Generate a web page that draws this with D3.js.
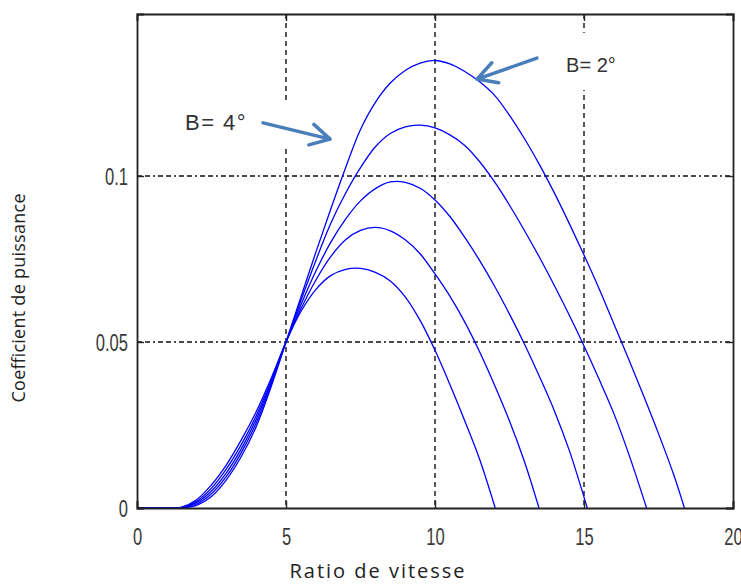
<!DOCTYPE html>
<html>
<head>
<meta charset="utf-8">
<script src="https://cdn.jsdelivr.net/npm/d3@7"></script>
<style>
  body { margin: 0; background: #fff; }
  svg { display: block; }
  .tick text { font-family: "Liberation Sans", Arial, sans-serif; font-size: 23px; fill: #3a3a3a; }
  .label { font-family: "Open Sans", sans-serif; fill: #222; }
  .note { font-family: "Liberation Sans", Arial, sans-serif; fill: #333; }
</style>
</head>
<body>
<svg id="chart" width="741" height="584"></svg>
<script>
// Values: [ratio de vitesse, Cp]
const curve1 = [[0, 0], [1, 0], [1.5, 0], [2, 0.0008], [2.5, 0.0035], [3, 0.0085], [3.5, 0.0155], [4, 0.0245], [4.5, 0.0365], [5, 0.05],
  [5.5, 0.0635], [6, 0.077], [6.5, 0.09], [7, 0.1025], [7.5, 0.114], [8, 0.1222], [8.5, 0.128], [9, 0.1318], [9.5, 0.134],
  [10, 0.1348], [10.5, 0.1338], [11, 0.1315], [11.5, 0.1284], [12, 0.1243], [12.5, 0.1183], [13, 0.1113], [13.5, 0.1035],
  [14, 0.095], [14.5, 0.0858], [15, 0.0762], [15.5, 0.0662], [16, 0.0555], [16.5, 0.0448], [17, 0.0338], [17.5, 0.0224],
  [18, 0.0103], [18.37, 0]];

const curve2 = [[0, 0], [1, 0], [1.5, 0], [2, 0.0012], [2.5, 0.0043], [3, 0.0095], [3.5, 0.0167], [4, 0.0256], [4.5, 0.0371], [5, 0.05],
  [5.5, 0.0625], [6, 0.0745], [6.5, 0.0857], [7, 0.0948], [7.5, 0.1025], [8, 0.1088], [8.5, 0.1128], [9, 0.1148], [9.5, 0.1153],
  [10, 0.1145], [10.5, 0.1124], [11, 0.1092], [11.5, 0.1043], [12, 0.0982], [12.5, 0.0912], [13, 0.0836], [13.5, 0.0756],
  [14, 0.0671], [14.5, 0.0582], [15, 0.0488], [15.5, 0.0389], [16, 0.0285], [16.5, 0.0163], [17.1, 0]];

const curve3 = [[0, 0], [1, 0], [1.5, 0.0001], [2, 0.0016], [2.5, 0.0051], [3, 0.0106], [3.5, 0.0178], [4, 0.0267], [4.5, 0.0377], [5, 0.05],
  [5.5, 0.0612], [6, 0.0713], [6.5, 0.08], [7, 0.087], [7.5, 0.0925], [8, 0.0962], [8.5, 0.0982], [9, 0.0981], [9.5, 0.0963],
  [10, 0.0928], [10.5, 0.0878], [11, 0.0815], [11.5, 0.0745], [12, 0.0668], [12.5, 0.0584], [13, 0.0494], [13.5, 0.0397],
  [14, 0.0294], [14.5, 0.0175], [15.11, 0]];

const curve4 = [[0, 0], [1, 0], [1.5, 0.0002], [2, 0.002], [2.5, 0.006], [3, 0.0118], [3.5, 0.0191], [4, 0.0278], [4.5, 0.0383], [5, 0.05],
  [5.5, 0.06], [6, 0.0686], [6.5, 0.0757], [7, 0.0808], [7.5, 0.0836], [8, 0.0845], [8.5, 0.0835], [9, 0.0808], [9.5, 0.0766],
  [10, 0.0705], [10.5, 0.0638], [11, 0.056], [11.5, 0.047], [12, 0.037], [12.5, 0.0262], [13, 0.014], [13.49, 0]];

const curve5 = [[0, 0], [1, 0], [1.5, 0.0003], [2, 0.0025], [2.5, 0.007], [3, 0.013], [3.5, 0.0205], [4, 0.029], [4.5, 0.039], [5, 0.05],
  [5.5, 0.0592], [6, 0.0658], [6.5, 0.07], [7, 0.0719], [7.5, 0.0722], [8, 0.071], [8.5, 0.0684], [9, 0.0636], [9.5, 0.0565],
  [10, 0.0475], [10.5, 0.0372], [11, 0.0262], [11.5, 0.0146], [12.02, 0]];

const curves = [curve1, curve2, curve3, curve4, curve5];

const xTicks = [0, 5, 10, 15, 20];
const yTicks = [0, 0.05, 0.1];
const xGrid = [5, 10, 15];
const yGrid = [0.05, 0.1];

// annotations in data units: white box corners, label position, arrow tail, arrow tip
const notes = [
  { text: 'B= 4°', size: 22, spacing: 1.5, box: [0.87, 0.1226, 5.13, 0.1087], at: [1.61, 0.1139], from: [4.23, 0.116], to: [6.48, 0.1111] },
  { text: 'B= 2°', size: 20, spacing: 0, box: [13.45, 0.1431, 16.95, 0.1259], at: [14.4, 0.1313], from: [13.42, 0.1355], to: [11.41, 0.1292] },
];

const svg = d3.select('#chart');
const padding = { top: 14, left: 137, right: 8, bottom: 76 };
const width = 741 - padding.left - padding.right;
const height = 584 - padding.top - padding.bottom;

const x = d3.scaleLinear().domain([0, 20]).range([padding.left, padding.left + width]);
const y = d3.scaleLinear().domain([0, 0.1488]).range([padding.top + height, padding.top]);

// grid
svg.append('g')
  .selectAll('line')
  .data(xGrid)
  .join('line')
  .attr('x1', d => x(d)).attr('x2', d => x(d))
  .attr('y1', y.range()[1]).attr('y2', y.range()[0])
  .attr('stroke', '#111')
  .attr('stroke-width', 1.4)
  .attr('stroke-dasharray', '5,4');

svg.append('g')
  .selectAll('line')
  .data(yGrid)
  .join('line')
  .attr('x1', x.range()[0]).attr('x2', x.range()[1])
  .attr('y1', d => y(d)).attr('y2', d => y(d))
  .attr('stroke', '#111')
  .attr('stroke-width', 1.4)
  .attr('stroke-dasharray', '5,3,5,3,2,3');

// curves
const line = d3.line()
  .x(d => x(d[0]))
  .y(d => Math.min(y(d[1]), y(0)))
  .curve(d3.curveCatmullRom.alpha(0.5));

svg.append('g')
  .selectAll('path')
  .data(curves)
  .join('path')
  .attr('d', line)
  .attr('fill', 'none')
  .attr('stroke', '#0000ff')
  .attr('stroke-width', 1.3);

// axes, ticks pointing inward
const axisB = svg.append('g')
  .attr('transform', `translate(0,${y(0)})`)
  .call(d3.axisBottom(x).tickValues(xTicks).tickSize(-7).tickPadding(23).tickFormat(d3.format('d')));
const axisL = svg.append('g')
  .attr('transform', `translate(${x(0)},0)`)
  .call(d3.axisLeft(y).tickValues(yTicks).tickSize(-7).tickFormat(d => d === 0 ? '0' : String(d)));
const axisT = svg.append('g')
  .attr('transform', `translate(0,${y.range()[1]})`)
  .call(d3.axisTop(x).tickValues(xTicks).tickSize(-7).tickFormat(''));
const axisR = svg.append('g')
  .attr('transform', `translate(${x(20)},0)`)
  .call(d3.axisRight(y).tickValues(yTicks).tickSize(-7).tickFormat(''));

[axisB, axisL, axisT, axisR].forEach(g => {
  g.select('.domain').attr('stroke', '#222').attr('stroke-width', 1.8);
  g.selectAll('.tick line').attr('stroke', '#222').attr('stroke-width', 1.4);
});
// narrow, tall tick digits like the original
axisB.selectAll('.tick text').attr('dy', '0.62em').attr('transform', 'scale(0.72,1)');
axisL.selectAll('.tick text').attr('dy', '0.36em').attr('x', -9 / 0.72).attr('transform', 'scale(0.72,1)');

// axis titles
svg.append('text')
  .attr('class', 'label')
  .attr('x', 377)
  .attr('y', 578)
  .attr('text-anchor', 'middle')
  .attr('font-size', 20)
  .attr('textLength', 175)
  .attr('lengthAdjust', 'spacing')
  .text('Ratio de vitesse');

svg.append('text')
  .attr('class', 'label')
  .attr('transform', 'translate(25,298) rotate(-90)')
  .attr('text-anchor', 'middle')
  .attr('font-size', 18)
  .attr('textLength', 209)
  .attr('lengthAdjust', 'spacing')
  .text('Coefficient de puissance');

// annotations
const ann = svg.append('g');
notes.forEach(n => {
  ann.append('rect')
    .attr('x', x(n.box[0]))
    .attr('y', y(n.box[1]))
    .attr('width', x(n.box[2]) - x(n.box[0]))
    .attr('height', y(n.box[3]) - y(n.box[1]))
    .attr('fill', '#fff');

  ann.append('text')
    .attr('class', 'note')
    .attr('x', x(n.at[0]))
    .attr('y', y(n.at[1]))
    .attr('font-size', n.size)
    .attr('letter-spacing', n.spacing)
    .text(n.text);

  const x0 = x(n.from[0]), y0 = y(n.from[1]);
  const x1 = x(n.to[0]), y1 = y(n.to[1]);
  const a = Math.atan2(y0 - y1, x0 - x1);
  const len = 22, spread = 0.5;
  const w1 = [x1 + len * Math.cos(a + spread), y1 + len * Math.sin(a + spread)];
  const w2 = [x1 + len * Math.cos(a - spread), y1 + len * Math.sin(a - spread)];

  ann.append('path')
    .attr('d', `M${x0},${y0}L${x1},${y1}M${w1[0]},${w1[1]}L${x1},${y1}L${w2[0]},${w2[1]}`)
    .attr('fill', 'none')
    .attr('stroke', '#4a7ebb')
    .attr('stroke-width', 3.5)
    .attr('stroke-linecap', 'round')
    .attr('stroke-linejoin', 'round');
});
</script>
</body>
</html>
